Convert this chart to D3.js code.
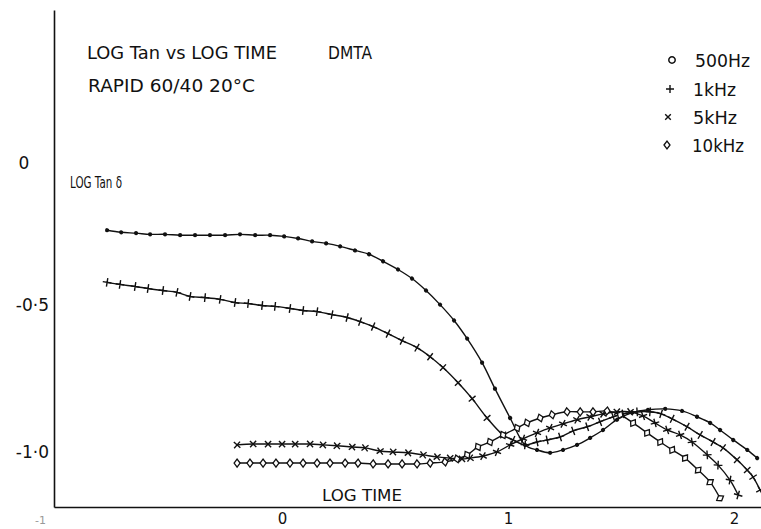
<!DOCTYPE html>
<html><head><meta charset="utf-8">
<script src="https://cdn.jsdelivr.net/npm/d3@7/dist/d3.min.js"></script>
<style>body{margin:0;background:#fff} svg{display:block}</style>
</head><body><svg id="c" width="761" height="529"></svg>
<script>
// ---- data (log time, log tan delta) ----
const t500 = [-0.774,-0.712,-0.646,-0.584,-0.518,-0.451,-0.385,-0.319,-0.252,-0.186,-0.119,-0.053,0.009,0.071,0.133,0.195,0.257,0.323,0.385,0.447,0.513,0.575,0.637,0.699,0.761,0.819,0.885,0.942,1.009,1.075,1.128,1.186,1.243,1.305,1.363,1.420,1.482,1.549,1.619,1.695,1.770,1.836,1.894,1.938,1.996,2.058,2.102];
const v500 = [-0.243,-0.250,-0.253,-0.257,-0.257,-0.260,-0.260,-0.260,-0.260,-0.257,-0.260,-0.260,-0.264,-0.271,-0.281,-0.288,-0.298,-0.312,-0.325,-0.349,-0.377,-0.408,-0.449,-0.497,-0.551,-0.613,-0.695,-0.784,-0.884,-0.976,-0.993,-1.003,-0.993,-0.976,-0.952,-0.925,-0.890,-0.866,-0.856,-0.853,-0.860,-0.880,-0.901,-0.925,-0.959,-0.993,-1.021];

const t1k = [-0.774,-0.717,-0.650,-0.593,-0.527,-0.465,-0.407,-0.341,-0.274,-0.208,-0.150,-0.088,-0.031,0.035,0.093,0.155,0.221,0.288,0.345,0.403,0.469,0.531,0.597,0.655,0.712,0.779,0.841,0.907,0.978,1.022,1.075,1.128,1.173,1.230,1.288,1.350,1.407,1.465,1.509,1.571,1.628,1.677,1.726,1.792,1.850,1.907,1.951,2.013,2.058,2.084,2.115];
const v1k = [-0.421,-0.428,-0.435,-0.442,-0.449,-0.455,-0.469,-0.473,-0.479,-0.490,-0.493,-0.500,-0.503,-0.510,-0.517,-0.521,-0.531,-0.541,-0.555,-0.572,-0.596,-0.620,-0.644,-0.675,-0.712,-0.764,-0.818,-0.884,-0.942,-0.959,-0.976,-0.966,-0.959,-0.949,-0.928,-0.914,-0.897,-0.880,-0.870,-0.863,-0.863,-0.870,-0.887,-0.914,-0.942,-0.966,-0.986,-1.027,-1.062,-1.086,-1.130];

const t5k = [-0.199,-0.128,-0.062,0.000,0.058,0.124,0.181,0.243,0.310,0.367,0.434,0.491,0.558,0.624,0.686,0.743,0.796,0.832,0.889,0.951,1.009,1.066,1.128,1.186,1.243,1.305,1.363,1.420,1.482,1.540,1.597,1.650,1.704,1.761,1.814,1.881,1.929,1.982,2.018];
const v5k = [-0.976,-0.973,-0.973,-0.973,-0.973,-0.973,-0.976,-0.979,-0.983,-0.986,-0.997,-1.000,-1.003,-1.010,-1.017,-1.021,-1.024,-1.021,-1.014,-1.000,-0.976,-0.955,-0.935,-0.918,-0.904,-0.890,-0.880,-0.870,-0.863,-0.863,-0.877,-0.901,-0.925,-0.942,-0.966,-1.010,-1.045,-1.096,-1.147];

const t10k = [-0.199,-0.142,-0.084,-0.027,0.035,0.093,0.155,0.212,0.279,0.336,0.403,0.469,0.531,0.597,0.655,0.721,0.774,0.819,0.867,0.920,0.978,1.040,1.084,1.142,1.195,1.261,1.319,1.376,1.438,1.496,1.553,1.615,1.673,1.726,1.783,1.841,1.894,1.938];
const v10k = [-1.038,-1.038,-1.038,-1.038,-1.038,-1.038,-1.038,-1.038,-1.038,-1.038,-1.041,-1.041,-1.041,-1.041,-1.038,-1.034,-1.024,-1.010,-0.983,-0.966,-0.942,-0.918,-0.901,-0.884,-0.873,-0.863,-0.863,-0.863,-0.860,-0.873,-0.901,-0.935,-0.966,-0.993,-1.021,-1.062,-1.103,-1.158];

const seriesNames = ["500Hz","1kHz","5kHz","10kHz"];
const seriesMarkers = ["dot","plus","cross","diamond"];
const xTicks = [-1,0,1,2];
const xTickLabels = ["-1","0","1","2"];
const yTicks = [0,-0.5,-1.0];
const yTickLabels = ["0","-0·5","-1·0"];
const titleText = "LOG Tan  vs LOG TIME";
const instrText = "DMTA";
const subText = "RAPID 60/40  20°C";
const yTitle = "LOG Tan δ";
const xTitle = "LOG TIME";

// ---- drawing ----
const svg = d3.select("#c");
const FONT = "DejaVu Sans, Arial, sans-serif";
const ink = "#111";
const x = d3.scaleLinear().domain([-1.009, 2.119]).range([54, 761]);
const y = d3.scaleLinear().domain([-1.188, 0.509]).range([507, 10]);

// axes
const gx = svg.append("g").attr("transform","translate(0,507)")
  .call(d3.axisBottom(x).tickValues(xTicks).tickSize(0).tickSizeOuter(0)
    .tickFormat((d,i)=>xTickLabels[i]));
gx.select(".domain").attr("stroke",ink).attr("stroke-width",1.6);
gx.selectAll("text").attr("font-family",FONT).attr("font-size",15).attr("fill",ink)
  .attr("y",17).attr("dy",0);
gx.selectAll(".tick").filter(d=>d===-1).select("text")
  .attr("x",-16).attr("fill","#999").attr("font-size",11);

const gy = svg.append("g").attr("transform","translate(54,0)")
  .call(d3.axisLeft(y).tickValues(yTicks).tickSize(0).tickSizeOuter(0).tickPadding(5)
    .tickFormat((d,i)=>yTickLabels[i]));
gy.select(".domain").attr("stroke",ink).attr("stroke-width",1.6);
gy.selectAll("text").attr("font-family",FONT).attr("font-size",17).attr("fill",ink);
gy.selectAll(".tick").filter(d=>d===0).select("text").attr("x",-30).attr("dy","0.55em").attr("text-anchor","middle");

// series
const series = [[t500,v500],[t1k,v1k],[t5k,v5k],[t10k,v10k]].map((s,k)=>({
  name: seriesNames[k], marker: seriesMarkers[k],
  pts: s[0].map((t,i)=>[t, s[1][i]])
}));
const line = d3.line().x(d=>x(d[0])).y(d=>y(d[1])).curve(d3.curveCatmullRom.alpha(0.5));

function drawMarker(g, type, cx, cy, ang, big){
  const m = g.append("g").attr("transform",`translate(${cx},${cy}) rotate(${ang})`);
  if(type==="dot"){
    if(big) m.append("circle").attr("r",3.2).attr("fill","#fff").attr("stroke",ink).attr("stroke-width",1.5);
    else m.append("circle").attr("r",2.1).attr("fill",ink);
  } else if(type==="plus"){
    const a = big?4:4.4;
    m.append("path").attr("d",`M${-a},0H${a}M0,${-a}V${a}`).attr("stroke",ink).attr("stroke-width",1.4).attr("fill","none");
  } else if(type==="cross"){
    const a = big?2.8:3.1;
    m.append("path").attr("d",`M${-a},${-a}L${a},${a}M${-a},${a}L${a},${-a}`).attr("stroke",ink).attr("stroke-width",1.4).attr("fill","none");
  } else {
    const w = 3, h = 4;
    m.append("path").attr("d",`M${-w},0L0,${-h}L${w},0L0,${h}Z`).attr("fill","#fff").attr("stroke",ink).attr("stroke-width",1.3);
  }
}

const gs = svg.append("g");
series.forEach(s=>{
  gs.append("path").attr("d",line(s.pts)).attr("fill","none").attr("stroke",ink).attr("stroke-width",1.4);
});
series.forEach(s=>{
  const px = s.pts.map(d=>[x(d[0]),y(d[1])]);
  px.forEach((p,i)=>{
    const a = px[Math.max(0,i-1)], b = px[Math.min(px.length-1,i+1)];
    const ang = Math.atan2(b[1]-a[1], b[0]-a[0])*180/Math.PI;
    drawMarker(gs, s.marker, p[0], p[1], ang, false);
  });
});

// legend
const legY = [60,89,117,145];
const legMX = [672,670,668,667];
const legTX = [695,693,693,692];
const legTL = [55,43,44,52];
seriesNames.forEach((n,k)=>{
  drawMarker(svg, seriesMarkers[k], legMX[k], legY[k], 0, true);
  svg.append("text").attr("x",legTX[k]).attr("y",legY[k]+6.5).text(n)
    .attr("font-family",FONT).attr("font-size",17).attr("fill",ink)
    .attr("textLength",legTL[k]).attr("lengthAdjust","spacingAndGlyphs");
});

// titles
function txt(s, xx, yy, tl, fs){
  const t = svg.append("text").attr("x",xx).attr("y",yy).text(s)
    .attr("font-family",FONT).attr("font-size",fs||17).attr("fill",ink);
  if(tl) t.attr("textLength",tl).attr("lengthAdjust","spacingAndGlyphs");
  return t;
}
txt(titleText, 87, 59, 190);
txt(instrText, 328, 59, 44);
txt(subText, 88, 92, 167);
txt(yTitle, 70, 188, 52, 16);
txt(xTitle, 322, 501, 80, 16);
</script></body></html>
